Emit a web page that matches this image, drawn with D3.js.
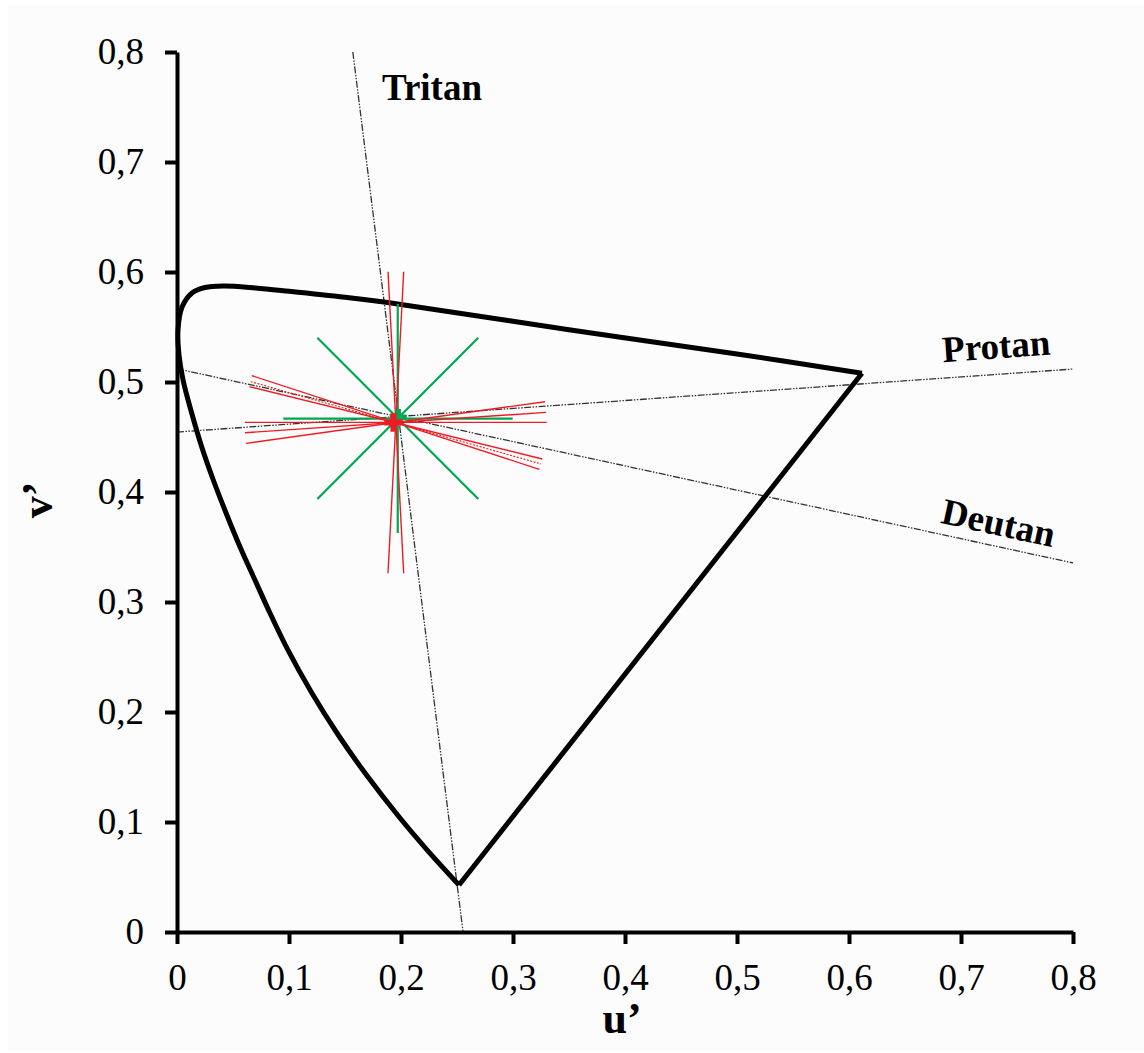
<!DOCTYPE html>
<html>
<head>
<meta charset="utf-8">
<script src="https://cdn.jsdelivr.net/npm/d3@7"></script>
<style>
  html, body { margin: 0; padding: 0; background: #ffffff; }
  svg { display: block; }
</style>
</head>
<body>
<svg id="chart" width="1144" height="1053"></svg>
<script>
// spectral locus (violet end -> red end)
const locusU = [0.2518, 0.2234, 0.1991, 0.1692, 0.1440, 0.1204, 0.0990, 0.0830, 0.0696, 0.0563, 0.0438, 0.0324, 0.0221, 0.0131, 0.0054, 0.0018, 0.0009, 0.0045, 0.0134, 0.025, 0.0411, 0.07, 0.1, 0.15, 0.2, 0.35, 0.5, 0.6116];
const locusV = [0.0427, 0.0745, 0.1036, 0.1427, 0.1791, 0.2173, 0.2564, 0.29, 0.32, 0.35, 0.3809, 0.4109, 0.4409, 0.4718, 0.5018, 0.5245, 0.5473, 0.5682, 0.5809, 0.5859, 0.5873, 0.5855, 0.5825, 0.577, 0.5705, 0.5475, 0.5255, 0.508];

// confusion lines [u1, v1, u2, v2]
const confusionNames = ["Tritan", "Protan", "Deutan"];
const confusionLines = [
  [0.157, 0.8, 0.2554, 0],
  [0, 0.4545, 0.8, 0.5118],
  [0, 0.512, 0.8, 0.3355]
];
const labelU = [0.183, 0.684, 0.681];
const labelV = [0.756, 0.518, 0.372];

// green star
const greenLines = [
  [0.1971, 0.571, 0.1971, 0.3627],
  [0.0949, 0.4667, 0.2997, 0.4667],
  [0.1253, 0.5403, 0.2690, 0.3936],
  [0.2690, 0.5403, 0.1253, 0.3936]
];
const greenCenter = [0.1975, 0.468];

// red lines
const redLines = [
  [0.1884, 0.6003, 0.2024, 0.3261],
  [0.2024, 0.6003, 0.1884, 0.3261],
  [0.0607, 0.4633, 0.3301, 0.4633],
  [0.0607, 0.4539, 0.3295, 0.4724],
  [0.0616, 0.4442, 0.3286, 0.4821],
  [0.0667, 0.5058, 0.3235, 0.4206],
  [0.0658, 0.5003, 0.3250, 0.4255],
  [0.0646, 0.4958, 0.3262, 0.4300]
];
const redDotted = [false, false, false, false, false, false, true, false];
const redCenter = [0.1933, 0.4632];

const tickValues = [0, 0.1, 0.2, 0.3, 0.4, 0.5, 0.6, 0.7, 0.8];

const serif = "'Liberation Serif', 'Times New Roman', serif";
const green = "#00a651";
const red = "#ed1c24";

const svg = d3.select("#chart");

svg.append("rect")
  .attr("x", 8).attr("y", 5)
  .attr("width", 1136).attr("height", 1046)
  .attr("fill", "#fcfcfc");

const x = d3.scaleLinear().domain([0, 0.8]).range([177, 1073]);
const y = d3.scaleLinear().domain([0, 0.8]).range([932, 52]);

const comma = d3.formatLocale({decimal: ",", thousands: ".", grouping: [3], currency: ["", ""]});
const tickFmt = function (d) {
  return d === 0 ? "0" : comma.format(".1f")(d);
};

// confusion lines
const conf = svg.append("g");
conf.selectAll("line")
  .data(confusionLines)
  .join("line")
  .attr("x1", d => x(d[0])).attr("y1", d => y(d[1]))
  .attr("x2", d => x(d[2])).attr("y2", d => y(d[3]))
  .attr("stroke", "#333")
  .attr("stroke-width", 1.3)
  .attr("stroke-dasharray", "7,1.5,1.5,1.5,1.5,1.5");

conf.selectAll("text")
  .data(confusionNames)
  .join("text")
  .attr("transform", function (d, i) {
    const l = confusionLines[i];
    let ang = 0;
    if (i > 0) {
      ang = Math.atan2(y(l[3]) - y(l[1]), x(l[2]) - x(l[0])) * 180 / Math.PI;
    }
    return `translate(${x(labelU[i])},${y(labelV[i])}) rotate(${ang})`;
  })
  .attr("font-family", serif)
  .attr("font-weight", "bold")
  .attr("font-size", 37)
  .attr("fill", "#000")
  .text(d => d);

// locus
const pts = locusU.map((u, i) => [u, locusV[i]]);
const curve = d3.line()
  .x(d => x(d[0])).y(d => y(d[1]))
  .curve(d3.curveCatmullRom.alpha(0.5));

svg.append("path")
  .attr("d", curve(pts))
  .attr("fill", "none")
  .attr("stroke", "#000")
  .attr("stroke-width", 5)
  .attr("stroke-linejoin", "round");

svg.append("path")
  .attr("d", d3.line().x(d => x(d[0])).y(d => y(d[1]))([pts[pts.length - 1], pts[0]]))
  .attr("fill", "none")
  .attr("stroke", "#000")
  .attr("stroke-width", 5)
  .attr("stroke-linejoin", "round");

// green star
svg.append("g").selectAll("line")
  .data(greenLines)
  .join("line")
  .attr("x1", d => x(d[0])).attr("y1", d => y(d[1]))
  .attr("x2", d => x(d[2])).attr("y2", d => y(d[3]))
  .attr("stroke", green)
  .attr("stroke-width", 2.2);

// red lines
svg.append("g").selectAll("line")
  .data(redLines)
  .join("line")
  .attr("x1", d => x(d[0])).attr("y1", d => y(d[1]))
  .attr("x2", d => x(d[2])).attr("y2", d => y(d[3]))
  .attr("stroke", red)
  .attr("stroke-width", (d, i) => redDotted[i] ? 1.1 : 1.4)
  .attr("stroke-dasharray", (d, i) => redDotted[i] ? "2,1.5" : null);

// plus markers
svg.append("path")
  .attr("d", d3.symbol().type(d3.symbolCross).size(150)())
  .attr("transform", `translate(${x(greenCenter[0])},${y(greenCenter[1])})`)
  .attr("fill", green);
svg.append("path")
  .attr("d", d3.symbol().type(d3.symbolCross).size(190)())
  .attr("transform", `translate(${x(redCenter[0])},${y(redCenter[1])})`)
  .attr("fill", red);

// axes
const yAxis = svg.append("g")
  .attr("transform", `translate(${x(0)},0)`)
  .call(d3.axisLeft(y).tickValues(tickValues).tickFormat(tickFmt).tickSize(12).tickSizeOuter(0).tickPadding(21));

const xAxis = svg.append("g")
  .attr("transform", `translate(0,${y(0)})`)
  .call(d3.axisBottom(x).tickValues(tickValues).tickFormat(tickFmt).tickSize(12).tickSizeOuter(0).tickPadding(20));

[yAxis, xAxis].forEach(function (ax) {
  ax.select(".domain").attr("stroke", "#000").attr("stroke-width", 4);
  ax.selectAll(".tick line").attr("stroke", "#000").attr("stroke-width", 4);
  ax.selectAll(".tick text")
    .attr("font-family", serif)
    .attr("font-size", 37)
    .attr("fill", "#000");
});

// axis titles
svg.append("text")
  .attr("x", x(0.4) - 3)
  .attr("y", 1033)
  .attr("text-anchor", "middle")
  .attr("font-family", serif)
  .attr("font-weight", "bold")
  .attr("font-size", 44)
  .text("u’");

svg.append("text")
  .attr("transform", `translate(52,${y(0.4) + 8}) rotate(-90)`)
  .attr("text-anchor", "middle")
  .attr("font-family", serif)
  .attr("font-weight", "bold")
  .attr("font-size", 44)
  .text("v’");
</script>
</body>
</html>
